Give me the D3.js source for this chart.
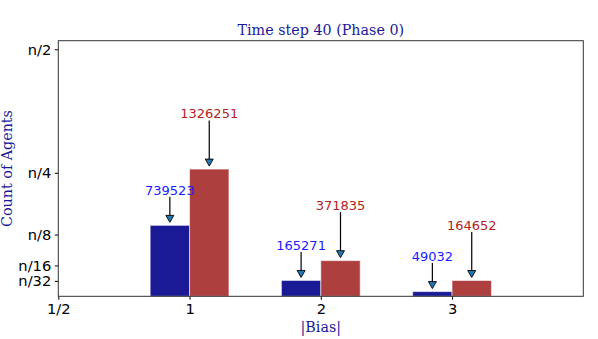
<!DOCTYPE html>
<html>
<head>
<meta charset="utf-8">
<script src="https://cdn.jsdelivr.net/npm/d3@7"></script>
<style>
  html, body { margin: 0; padding: 0; background: #fff; }
  svg { display: block; }
</style>
</head>
<body>
<svg id="chart" width="598" height="339"></svg>
<script>
// ---- data ----
const biasValues = [1, 2, 3];
const blueCounts = [739523, 165271, 49032];
const redCounts = [1326251, 371835, 164652];
const nTotal = 5150000;
const yTickFractions = [1/2, 1/4, 1/8, 1/16, 1/32];
const yTickLabels = ["n/2", "n/4", "n/8", "n/16", "n/32"];
const xTickValues = [0, 1, 2, 3];
const xTickLabels = ["1/2", "1", "2", "3"];
const titleText = "Time step 40 (Phase 0)";
const xLabelText = "|Bias|";
const yLabelText = "Count of Agents";

// ---- layout ----
const svg = d3.select("#chart");
const L = 58.3, R = 583.3, T = 40.7, B = 296.3;
const barW = 0.3;

const x = d3.scaleLinear().domain([0, 4]).range([L, R]);
const y = d3.scaleLinear().domain([0, 0.5174 * nTotal]).range([B, T]);

const blueFill = "#1a1a97", redFill = "#ae3f3f";
const blueText = "#1a1aff", redText = "#b22222";
const navy = "#1a1a96";

// bars
const g = svg.append("g");
g.selectAll("rect.blue").data(biasValues).join("rect")
  .attr("class", "blue")
  .attr("x", (d) => x(d - barW))
  .attr("width", (d) => x(d) - x(d - barW))
  .attr("y", (d, i) => y(blueCounts[i]))
  .attr("height", (d, i) => y(0) - y(blueCounts[i]))
  .attr("fill", blueFill)
  .attr("stroke", "rgba(255,255,255,0.55)")
  .attr("stroke-width", 1);
g.selectAll("rect.red").data(biasValues).join("rect")
  .attr("class", "red")
  .attr("x", (d) => x(d))
  .attr("width", (d) => x(d + barW) - x(d))
  .attr("y", (d, i) => y(redCounts[i]))
  .attr("height", (d, i) => y(0) - y(redCounts[i]))
  .attr("fill", redFill)
  .attr("stroke", "rgba(255,255,255,0.55)")
  .attr("stroke-width", 1);

// annotations
function annotate(cx, value, color, offset) {
  const top = y(value);
  const ty = top - offset;
  svg.append("text")
    .attr("x", cx).attr("y", ty).attr("dy", "0.36em")
    .attr("text-anchor", "middle")
    .attr("font-family", "DejaVu Sans, sans-serif")
    .attr("font-size", "13px")
    .attr("fill", color)
    .text(value);
  const y0 = ty + 7, y1 = top - 3;
  const hl = 7, hw = 4;
  svg.append("line")
    .attr("x1", cx).attr("x2", cx).attr("y1", y0).attr("y2", y1 - hl + 1)
    .attr("stroke", "#000").attr("stroke-width", 1.2);
  svg.append("path")
    .attr("d", `M${cx - hw},${y1 - hl} L${cx + hw},${y1 - hl} L${cx},${y1} Z`)
    .attr("fill", "#1f77b4").attr("stroke", "#000").attr("stroke-width", 0.9);
}
biasValues.forEach((d, i) => {
  annotate((x(d - barW) + x(d)) / 2, blueCounts[i], blueText, 35.5);
  annotate((x(d) + x(d + barW)) / 2, redCounts[i], redText, 55.5);
});

// axes
const xAxis = d3.axisBottom(x).tickValues(xTickValues)
  .tickFormat((d, i) => xTickLabels[i]).tickSize(3.5).tickPadding(3.5);
const xg = svg.append("g").attr("transform", `translate(0,${B})`).call(xAxis);
xg.select(".domain").remove();
xg.selectAll("text").attr("font-family", "DejaVu Sans, sans-serif").attr("font-size", "14.7px").attr("fill", "#000");

const yAxis = d3.axisLeft(y).tickValues(yTickFractions.map((f) => f * nTotal))
  .tickFormat((d, i) => yTickLabels[i]).tickSize(3.5).tickPadding(3.5);
const yg = svg.append("g").attr("transform", `translate(${L},0)`).call(yAxis);
yg.select(".domain").remove();
yg.selectAll("text").attr("font-family", "DejaVu Sans, sans-serif").attr("font-size", "14.7px").attr("fill", "#000");

// frame
svg.append("rect").attr("x", L).attr("y", T).attr("width", R - L).attr("height", B - T)
  .attr("fill", "none").attr("stroke", "#333").attr("stroke-width", 1);

// titles
svg.append("text").attr("x", (L + R) / 2).attr("y", 35)
  .attr("text-anchor", "middle").attr("font-family", "DejaVu Serif, serif")
  .attr("font-size", "14.3px").attr("fill", navy).text(titleText);
svg.append("text").attr("x", (L + R) / 2).attr("y", 332)
  .attr("text-anchor", "middle").attr("font-family", "DejaVu Serif, serif")
  .attr("font-size", "14.3px").attr("fill", navy).text(xLabelText);
svg.append("text").attr("transform", `translate(12,${(T + B) / 2}) rotate(-90)`)
  .attr("text-anchor", "middle").attr("font-family", "DejaVu Serif, serif")
  .attr("font-size", "14.3px").attr("fill", navy).text(yLabelText);
</script>
</body>
</html>
